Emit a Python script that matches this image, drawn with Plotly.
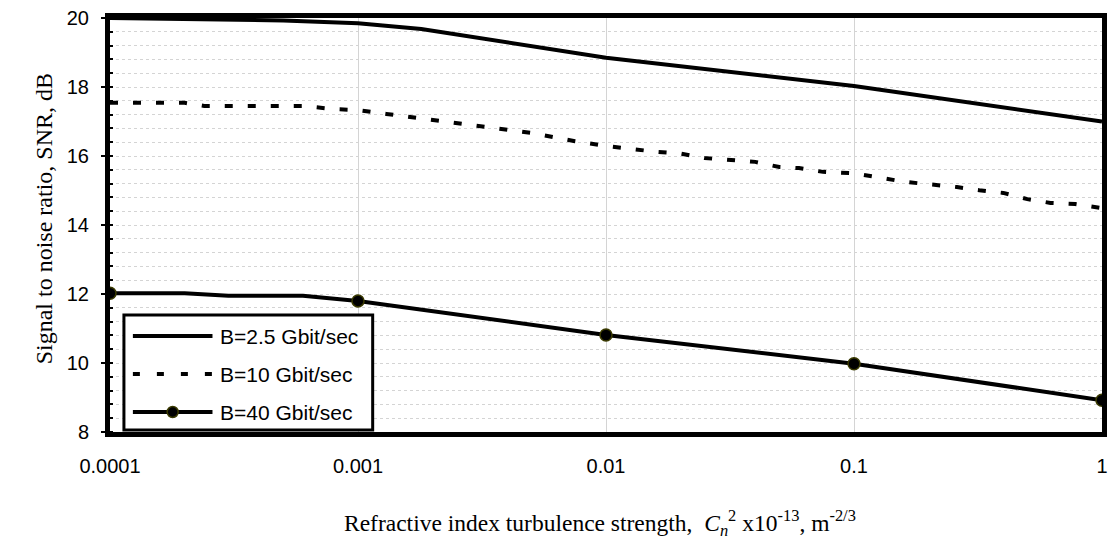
import plotly.graph_objects as go

# ---------------- data ----------------
x_b25 = [1e-4, 2e-4, 5e-4, 1e-3, 1.8e-3, 1e-2, 1e-1, 1.0]
snr_b25 = [20.0, 19.98, 19.93, 19.85, 19.68, 18.85, 18.03, 17.0]

x_b10 = [1e-4, 2e-4, 2.4e-4, 6e-4, 8e-4, 1e-3, 1.3e-3, 2e-3, 3e-3, 5e-3, 7.5e-3,
         1e-2, 1.6e-2, 2e-2, 2.5e-2, 3.2e-2, 4e-2, 5e-2, 6e-2, 7.5e-2, 1e-1,
         0.16, 0.2, 0.26, 0.32, 0.4, 0.5, 0.62, 0.78, 1.0]
snr_b10 = [17.54, 17.54, 17.45, 17.45, 17.36, 17.33, 17.22, 17.04, 16.87, 16.67, 16.43,
           16.29, 16.12, 16.07, 15.94, 15.88, 15.83, 15.68, 15.65, 15.54, 15.5,
           15.25, 15.19, 15.1, 15.01, 14.93, 14.75, 14.64, 14.61, 14.49]

x_b40 = [1e-4, 2e-4, 3e-4, 6e-4, 1e-3, 1e-2, 1e-1, 1.0]
snr_b40 = [12.02, 12.02, 11.95, 11.95, 11.8, 10.81, 9.98, 8.92]

x_b40_marks = [1e-4, 1e-3, 1e-2, 1e-1, 1.0]
snr_b40_marks = [12.02, 11.8, 10.81, 9.98, 8.92]

series_names = ["B=2.5 Gbit/sec", "B=10 Gbit/sec", "B=40 Gbit/sec"]

x_tickvals = [1e-4, 1e-3, 1e-2, 1e-1, 1]
x_ticktext = ["0.0001", "0.001", "0.01", "0.1", "1"]
y_tickvals = [8, 10, 12, 14, 16, 18, 20]

# ---------------- layout geometry (pixels) ----------------
W, H = 1112, 545
L, R, T, B = 110, 1107, 18, 432  # plot area edges in px


def px_x(px):
    return (px - L) / (R - L)


def px_y(py):
    return (B - py) / (B - T)


SANS = "Arial, 'Liberation Sans', sans-serif"
SERIF = "'Times New Roman', 'Liberation Serif', serif"
OLIVE = "#3a3a00"

fig = go.Figure()

fig.add_trace(go.Scatter(x=x_b25, y=snr_b25, mode="lines", name=series_names[0],
                         line=dict(color="black", width=4), showlegend=False))
fig.add_trace(go.Scatter(x=x_b10, y=snr_b10, mode="lines", name=series_names[1],
                         line=dict(color="black", width=4, dash="8px,15px"), showlegend=False))
fig.add_trace(go.Scatter(x=x_b40, y=snr_b40, mode="lines", name=series_names[2],
                         line=dict(color="black", width=4), showlegend=False))
fig.add_trace(go.Scatter(x=x_b40_marks, y=snr_b40_marks, mode="markers", name=series_names[2],
                         marker=dict(color="black", size=12, line=dict(color=OLIVE, width=1.5)),
                         showlegend=False))

# ---------------- custom legend (box, samples, labels) ----------------
shapes = []
annotations = []
lx0, lx1, ly0, ly1 = 124, 374, 315, 430
shapes.append(dict(type="rect", xref="paper", yref="paper",
                   x0=px_x(lx0), x1=px_x(lx1), y0=px_y(ly1), y1=px_y(ly0),
                   line=dict(color="black", width=3), fillcolor="white", layer="above"))
rows = [336, 374, 412]
dashes = ["solid", "7px,17px", "solid"]
for i, (py, d) in enumerate(zip(rows, dashes)):
    shapes.append(dict(type="line", xref="paper", yref="paper",
                       x0=px_x(133), x1=px_x(213), y0=px_y(py), y1=px_y(py),
                       line=dict(color="black", width=4, dash=d), layer="above"))
    annotations.append(dict(xref="paper", yref="paper", x=px_x(219), y=px_y(py),
                            text=series_names[i], showarrow=False, xanchor="left",
                            yanchor="middle", font=dict(family=SANS, size=21, color="black")))
shapes.append(dict(type="circle", xref="paper", yref="paper",
                   xsizemode="pixel", ysizemode="pixel",
                   xanchor=px_x(173), yanchor=px_y(rows[2]),
                   x0=-5.5, x1=5.5, y0=-5.5, y1=5.5,
                   fillcolor="black", line=dict(color=OLIVE, width=1.5), layer="above"))

# axis titles
annotations.append(dict(xref="paper", yref="paper", x=px_x(44), y=px_y(219),
                        text="Signal to noise ratio, SNR, dB", textangle=-90,
                        showarrow=False, xanchor="center", yanchor="middle",
                        font=dict(family=SERIF, size=24, color="black")))
annotations.append(dict(xref="paper", yref="paper", x=px_x(602), y=px_y(523),
                        text="Refractive index turbulence strength,  <i>C</i><sub><i>n</i></sub><sup>2</sup> x10<sup>-13</sup>, m<sup>-2/3</sup>",
                        showarrow=False, xanchor="center", yanchor="middle",
                        font=dict(family=SERIF, size=23.5, color="black")))

fig.update_layout(
    width=W, height=H,
    margin=dict(l=L, r=W - R, t=T, b=H - B, pad=0),
    paper_bgcolor="white", plot_bgcolor="white",
    showlegend=False,
    shapes=shapes, annotations=annotations,
)

fig.update_xaxes(
    type="log", range=[-4, 0],
    tickvals=x_tickvals, ticktext=x_ticktext,
    ticks="", showgrid=True, gridcolor="#d4d4d4", gridwidth=1,
    showline=True, linecolor="black", linewidth=5, mirror=True,
    tickfont=dict(family=SANS, size=20, color="black"),
    ticklabelstandoff=12,
    zeroline=False,
)
fig.update_yaxes(
    range=[8, 20],
    tickvals=y_tickvals,
    ticks="outside", ticklen=4, tickwidth=1.5, tickcolor="black",
    showgrid=True, gridcolor="#d4d4d4", gridwidth=1, griddash="dot",
    minor=dict(dtick=0.4, tick0=8, ticks="inside", ticklen=3, tickwidth=1.5, tickcolor="black",
               showgrid=True, gridcolor="#d4d4d4", gridwidth=1, griddash="dot"),
    showline=True, linecolor="black", linewidth=5, mirror=True,
    tickfont=dict(family=SANS, size=20, color="black"),
    ticklabelstandoff=8,
    zeroline=False,
)

fig.write_html("out.html",
               config={"displayModeBar": False},
               post_script="document.body.style.margin='0px';document.body.style.overflow='hidden';")
